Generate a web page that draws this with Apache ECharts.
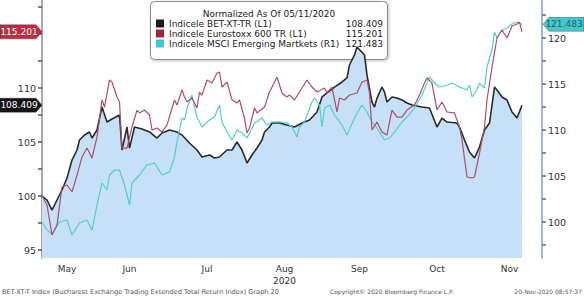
<!DOCTYPE html>
<html><head><meta charset="utf-8">
<script src="https://cdn.jsdelivr.net/npm/echarts@6/dist/echarts.min.js"></script>
<style>html,body{margin:0;padding:0;background:#fff}#c{width:584px;height:297px}</style>
</head><body><div id="c"></div>
<script>
// x values are days after 11 May 2020
const axisEndDay = 200;
const monthLabels = ['May', 'Jun', 'Jul', 'Aug', 'Sep', 'Oct', 'Nov'];
const monthLabelDays = [10, 35, 66, 97, 127, 158, 187];
const yearLabel = '2020';
const yearLabelMonth = 'Aug';
const leftLabelValues = [95, 100, 105, 110];
const leftTickValues = [95, 97.5, 100, 102.5, 105, 107.5, 110, 112.5, 115, 117.5];
const rightLabelValues = [100, 105, 110, 115, 120];
const rightTickValues = [97.5, 100, 102.5, 105, 107.5, 110, 112.5, 115, 117.5, 120, 122.5];
const seriesNames = ['Indicele BET-XT-TR (L1)', 'Indicele Eurostoxx 600 TR (L1)', 'Indicele MSCI Emerging Martkets (R1)'];
const lastValues = ['108.409', '115.201', '121.483'];
const legendTitle = 'Normalized As Of 05/11/2020';
const footerLeft = 'BET-XT-T Index (Bucharest Exchange Trading Extended Total Return Index) Graph 20';
const footerMid = 'Copyright\u00a9 2020 Bloomberg Finance L.P.';
const footerRight = '20-Nov-2020 08:57:37';

const betSeries = [[0,100],[2,99.63],[4,98.7],[6,99.63],[8,100.56],[10,101.67],[12,103.33],[14,104.26],[15,105.19],[17,105.65],[19,105.93],[20,105.37],[22,106.11],[24,108.24],[26,106.85],[28,107.13],[31,107.5],[32,104.26],[34,106.39],[35,104.44],[37,106.39],[40,106.2],[43,105.93],[46,105.37],[48,105.83],[51,106.11],[54,105.93],[56,105.65],[59,104.91],[62,104.26],[64,103.61],[67,103.8],[69,103.52],[71,103.61],[74,104.26],[76,104.26],[78,105.0],[80,104.26],[82,103.06],[84,103.8],[86,104.44],[88,105.19],[89,105.93],[91,106.39],[92,106.76],[95,106.76],[98,106.57],[101,106.39],[104,106.76],[107,107.04],[110,107.78],[112,109.17],[114,109.54],[117,110.09],[120,110.56],[122,110.93],[123,112.13],[125,113.06],[126,113.8],[129,113.06],[130,111.2],[132,108.7],[133,108.24],[134,109.07],[136,110.09],[137,109.63],[138,108.7],[140,109.17],[142,109.07],[144,108.89],[146,108.61],[148,108.43],[152,108.24],[155,108.15],[158,106.39],[160,107.22],[162,106.85],[166,106.76],[167,106.39],[169,105.19],[171,104.07],[173,103.52],[175,104.54],[177,106.11],[179,106.76],[181,110.09],[182,109.81],[184,109.17],[186,108.89],[188,107.78],[190,107.22],[192,108.409]];

const stoxxSeries = [[0,100],[2,99.17],[4,96.39],[6,97.31],[8,100.83],[10,101.02],[12,100.37],[14,101.94],[16,103.61],[18,104.44],[20,103.52],[22,105.46],[24,108.89],[25,108.24],[27,110.74],[28,110.56],[30,109.17],[31,108.7],[32,104.44],[34,104.44],[36,106.39],[38,107.96],[39,107.69],[41,107.96],[43,107.5],[44,106.11],[46,106.3],[48,105.93],[50,106.57],[53,108.89],[54,108.43],[56,109.81],[57,109.17],[58,108.7],[60,109.07],[62,108.15],[63,109.63],[64,109.35],[66,110.74],[68,110.46],[70,111.39],[71,111.48],[72,110.09],[74,110.56],[76,108.89],[78,108.61],[79,108.89],[81,107.22],[82,105.83],[83,106.3],[85,108.15],[86,107.69],[89,108.24],[91,109.63],[94,111.0],[96,109.54],[98,109.17],[99,109.35],[101,108.89],[104,110.0],[106,110.74],[108,110.09],[110,109.63],[113,110.0],[114,109.54],[116,110.09],[118,107.78],[119,109.07],[121,108.89],[123,109.35],[126,109.54],[128,110.56],[130,110.74],[131,109.54],[132,106.11],[134,106.85],[136,105.93],[138,105.65],[139,106.85],[140,107.96],[142,107.31],[144,107.31],[146,107.96],[149,108.43],[151,109.35],[153,110.46],[154,110.93],[156,110.46],[158,107.96],[160,108.7],[162,107.78],[165,107.69],[167,106.39],[168,105.19],[170,101.76],[172,101.67],[173,101.76],[175,103.98],[177,106.39],[178,108.89],[180,111.94],[182,114.63],[184,115.37],[186,114.63],[188,115.74],[190,115.93],[191,116.11],[192,115.201]];

const msciSeries = [[0,100],[2,99.13],[4,98.7],[7,100],[10,100.22],[12,98.59],[15,99.89],[18,100.22],[20,99.13],[22,101.85],[24,104.24],[26,103.48],[27,105.11],[29,105.65],[31,105.65],[33,104.02],[35,101.85],[36,104.24],[39,105.11],[42,106.2],[45,106.41],[48,105.11],[51,105.43],[53,107.07],[54,108.7],[56,111.3],[57,111.09],[58,112.39],[60,113.8],[61,112.5],[62,111.41],[64,110.33],[67,111.09],[69,111.41],[71,112.72],[72,110.87],[74,109.78],[76,108.91],[78,110.0],[80,109.67],[82,109.13],[85,110.76],[88,111.3],[90,110.54],[92,110.87],[95,110.9],[98,110.76],[100,110.33],[102,109.24],[103,110.33],[105,110.87],[108,113.04],[109,113.48],[111,112.72],[112,110.33],[113,112.39],[115,112.72],[117,111.63],[120,110.54],[122,109.46],[125,111.3],[128,112.72],[130,111.96],[132,110.87],[134,110.22],[137,108.91],[139,109.13],[141,109.78],[144,110.87],[146,111.41],[149,112.39],[152,113.8],[155,115.76],[157,115.11],[159,114.67],[162,114.89],[164,115.11],[167,114.67],[170,114.35],[171,114.89],[172,113.59],[174,114.35],[175,115.11],[177,114.57],[178,116.85],[180,118.7],[181,120.65],[182,120.0],[184,120.87],[186,121.09],[188,121.52],[190,121.74],[192,121.483]];

const FONT = 'DejaVu Sans';
const chart = echarts.init(document.getElementById('c'), null, {renderer: 'svg'});
const valueOf = {};
seriesNames.forEach((n, i) => valueOf[n] = lastValues[i]);

chart.setOption({
  animation: false,
  backgroundColor: '#ffffff',
  textStyle: {fontFamily: FONT},
  grid: {left: 42, right: 42, top: 0, bottom: 39, containLabel: false},
  title: [
    {text: footerLeft, left: 2, top: 288, padding: 0, textStyle: {fontSize: 6.6, fontWeight: 'normal', color: '#555', fontFamily: FONT}},
    {text: footerMid, left: 330, top: 288, padding: 0, textStyle: {fontSize: 6, fontWeight: 'normal', color: '#555', fontFamily: FONT}},
    {text: footerRight, right: 2, top: 288, padding: 0, textStyle: {fontSize: 6, fontWeight: 'normal', color: '#555', fontFamily: FONT}}
  ],
  legend: {
    orient: 'vertical', left: 156, top: 19, padding: 0, itemGap: 1,
    itemWidth: 8, itemHeight: 8, icon: 'rect', selectedMode: false, z: 6,
    data: seriesNames,
    formatter: name => '{n|' + name + '}{v|' + valueOf[name] + '}',
    textStyle: {
      fontFamily: FONT, fontSize: 9, color: '#222',
      rich: {
        n: {width: 170, fontSize: 9, fontFamily: FONT, color: '#222', lineHeight: 11.5},
        v: {width: 44, align: 'right', fontSize: 9, fontFamily: FONT, color: '#222', lineHeight: 11.5}
      }
    }
  },
  xAxis: {
    type: 'value', min: 0, max: axisEndDay,
    axisLine: {show: false}, axisTick: {show: false}, splitLine: {show: false},
    axisLabel: {
      customValues: monthLabelDays, margin: 5, fontSize: 9, color: '#333', fontFamily: FONT, lineHeight: 12,
      formatter: v => {
        const m = monthLabels[monthLabelDays.indexOf(Math.round(v))] || '';
        return m === yearLabelMonth ? m + '\n' + yearLabel : m;
      }
    }
  },
  yAxis: [
    {
      type: 'value', position: 'left', min: 94.26, max: 118.15,
      splitLine: {show: false},
      axisLine: {show: true, lineStyle: {color: '#8e8e8e', width: 1.5}},
      axisTick: {show: true, customValues: leftTickValues, length: 4, lineStyle: {color: '#555', width: 1.5}},
      axisLabel: {customValues: leftLabelValues, margin: 6, fontSize: 9.5, color: '#333', fontFamily: FONT}
    },
    {
      type: 'value', position: 'right', min: 96.09, max: 124.13,
      splitLine: {show: false},
      axisLine: {show: true, lineStyle: {color: '#7e9cc0', width: 1.5}},
      axisTick: {show: true, customValues: rightTickValues, length: 4, lineStyle: {color: '#4d6f96', width: 1.5}},
      axisLabel: {customValues: rightLabelValues, margin: 6, fontSize: 9.5, color: '#333', fontFamily: FONT}
    }
  ],
  series: [
    {name: seriesNames[0], type: 'line', yAxisIndex: 0, data: betSeries, showSymbol: false, symbol: 'none',
     color: '#1c1c1c', lineStyle: {color: '#2a2a2a', width: 1.6}, areaStyle: {color: '#c6e0f8', opacity: 1}, z: 2},
    {name: seriesNames[2], type: 'line', yAxisIndex: 1, data: msciSeries, showSymbol: false, symbol: 'none',
     color: '#3cc7cf', lineStyle: {color: '#4fcfcf', width: 1.2}, z: 3},
    {name: seriesNames[1], type: 'line', yAxisIndex: 0, data: stoxxSeries, showSymbol: false, symbol: 'none',
     color: '#a3213a', lineStyle: {color: '#b04d68', width: 1.2}, z: 4}
  ]
});

// last-value tags placed through the axes' own scales
function tag(id, side, yAxisIndex, value, fill, textColor) {
  const y = chart.convertToPixel({yAxisIndex: yAxisIndex}, parseFloat(value));
  const h = 7;
  let pts, tx;
  if (side === 'left') {
    pts = [[0, y - h], [36, y - h], [42, y], [36, y + h], [0, y + h]];
    tx = 19;
  } else {
    pts = [[543, y], [549, y - h], [584, y - h], [584, y + h], [549, y + h]];
    tx = 564;
  }
  return [
    {id: id + 'Shape', type: 'polygon', z: 10, shape: {points: pts}, style: {fill: fill, stroke: 'rgba(0,0,0,0.35)', lineWidth: 0.8}},
    {id: id + 'Text', type: 'text', z: 11, x: tx, y: y, style: {text: value, fontSize: 9, fontFamily: FONT, fill: textColor, align: 'center', verticalAlign: 'middle'}}
  ];
}
chart.setOption({
  graphic: [
    {id: 'legendBox', type: 'rect', z: 1, shape: {x: 150.5, y: 1.5, width: 237, height: 58, r: 4},
     style: {fill: '#fff', stroke: '#8a8a8a', lineWidth: 1, shadowBlur: 3, shadowColor: 'rgba(0,0,0,0.25)', shadowOffsetX: 1, shadowOffsetY: 1}},
    {id: 'legendTitle', type: 'text', z: 6, x: 269, y: 13.5, style: {text: legendTitle, fontSize: 9, fontFamily: FONT, fill: '#222', align: 'center', verticalAlign: 'middle'}}
  ].concat(
    tag('stoxxTag', 'left', 0, lastValues[1], '#c42a40', '#ffffff'),
    tag('betTag', 'left', 0, lastValues[0], '#151515', '#ffffff'),
    tag('msciTag', 'right', 1, lastValues[2], '#45c6c9', '#16676c')
  )
});
</script>
</body></html>
